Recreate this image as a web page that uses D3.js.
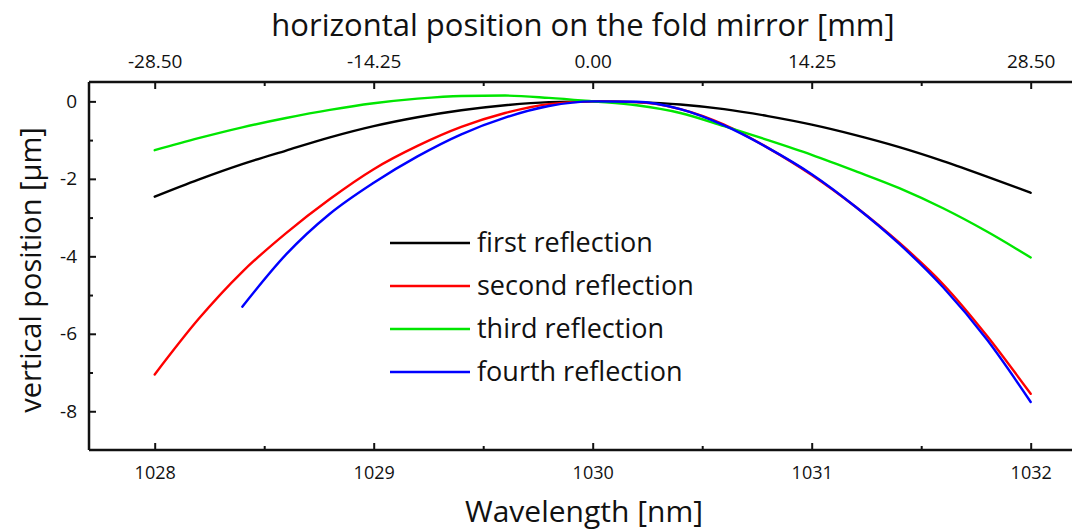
<!DOCTYPE html>
<html>
<head>
<meta charset="utf-8">
<script src="https://cdn.jsdelivr.net/npm/d3@7/dist/d3.min.js"></script>
<style>
  html, body { margin: 0; padding: 0; background: #fff; }
  svg { display: block; }
  .tick text { fill: #111; }
</style>
</head>
<body>
<svg id="chart" width="1072" height="532"></svg>
<script>
// Wavelength samples [nm]
const wavelength = [1028, 1028.2, 1028.4, 1028.6, 1028.8, 1029, 1029.2, 1029.4, 1029.6, 1029.8,
                    1030, 1030.2, 1030.4, 1030.6, 1030.8, 1031, 1031.2, 1031.4, 1031.6, 1031.8, 1032];

// Vertical position of the beam on the fold mirror [µm] for each reflection
const firstReflection  = [-2.46, -2.02, -1.62, -1.27, -0.93, -0.64, -0.41, -0.23, -0.10, -0.02,
                          0, -0.02, -0.08, -0.20, -0.38, -0.60, -0.87, -1.18, -1.54, -1.94, -2.36];
const secondReflection = [-7.05, -5.62, -4.40, -3.40, -2.52, -1.75, -1.15, -0.66, -0.30, -0.07,
                          0, -0.02, -0.20, -0.60, -1.20, -1.90, -2.72, -3.65, -4.72, -6.05, -7.55];
const thirdReflection  = [-1.26, -0.95, -0.67, -0.43, -0.22, -0.05, 0.07, 0.14, 0.15, 0.09,
                          0, -0.10, -0.30, -0.64, -1.00, -1.38, -1.80, -2.24, -2.76, -3.36, -4.03];
const fourthReflection = [null, null, -5.30, -3.95, -2.90, -2.10, -1.42, -0.85, -0.42, -0.12,
                          0, -0.01, -0.20, -0.62, -1.20, -1.88, -2.72, -3.68, -4.80, -6.15, -7.76];

const seriesNames  = ["first reflection", "second reflection", "third reflection", "fourth reflection"];
const seriesColors = ["#000000", "#ff0000", "#00e600", "#0000ff"];
const seriesValues = [firstReflection, secondReflection, thirdReflection, fourthReflection];

// Axis ticks
const bottomTicks = [1028, 1029, 1030, 1031, 1032];
const bottomMinor = [1028.5, 1029.5, 1030.5, 1031.5];
const topTicks = [-28.5, -14.25, 0, 14.25, 28.5];
const topMinor = [-21.375, -7.125, 7.125, 21.375];
const leftTicks = [0, -2, -4, -6, -8];
const leftMinor = [-1, -3, -5, -7];

// mm on the fold mirror per nm of wavelength, centred on 1030 nm
const mmPerNm = 14.25;
const centreNm = 1030;

const svg = d3.select("#chart");
const padLeft = 89, padTop = 82, padBottom = 450;
const x = d3.scaleLinear().domain([1027.7, 1032.2]).range([padLeft, padLeft + 4.5 * 219]);
const y = d3.scaleLinear().domain([-9, 0.5]).range([padBottom, padTop]);
const xTop = d3.scaleLinear()
  .domain([(1027.7 - centreNm) * mmPerNm, (1032.2 - centreNm) * mmPerNm])
  .range(x.range());

const font = "'Open Sans', sans-serif";
const hyphen = s => s.replace(/\u2212/g, "-");

const plot = svg.append("g");

// Curves
const line = d3.line()
  .defined(d => d[1] !== null)
  .x(d => x(d[0]))
  .y(d => y(d[1]))
  .curve(d3.curveMonotoneX);

seriesValues.forEach((vals, i) => {
  plot.append("path")
    .datum(wavelength.map((w, j) => [w, vals[j]]))
    .attr("fill", "none")
    .attr("stroke", seriesColors[i])
    .attr("stroke-width", 2.4)
    .attr("stroke-linejoin", "round")
    .attr("stroke-linecap", "round")
    .attr("d", line);
});

// Axes: ticks point into the plot
function styleAxis(g) {
  g.select(".domain").remove();
  g.selectAll(".tick line").attr("stroke", "#111").attr("stroke-width", 2);
}

const gBottom = svg.append("g").attr("transform", `translate(0,${padBottom})`)
  .call(d3.axisBottom(x).tickValues(bottomTicks).tickSizeInner(-7).tickSizeOuter(0)
        .tickPadding(16).tickFormat(d3.format("d")));
styleAxis(gBottom);
gBottom.selectAll(".tick text").attr("font-family", font).attr("font-size", 18);
svg.append("g").attr("transform", `translate(0,${padBottom})`)
  .call(d3.axisBottom(x).tickValues(bottomMinor).tickSizeInner(-4).tickSizeOuter(0).tickFormat(""))
  .call(styleAxis);

const gTop = svg.append("g").attr("transform", `translate(0,${padTop})`)
  .call(d3.axisTop(xTop).tickValues(topTicks).tickSizeInner(-7).tickSizeOuter(0)
        .tickPadding(14).tickFormat(d => hyphen(d3.format(".2f")(d))));
styleAxis(gTop);
gTop.selectAll(".tick text").attr("font-family", font).attr("font-size", 19);
svg.append("g").attr("transform", `translate(0,${padTop})`)
  .call(d3.axisTop(xTop).tickValues(topMinor).tickSizeInner(-4).tickSizeOuter(0).tickFormat(""))
  .call(styleAxis);

const gLeft = svg.append("g").attr("transform", `translate(${padLeft},0)`)
  .call(d3.axisLeft(y).tickValues(leftTicks).tickSizeInner(-7).tickSizeOuter(0)
        .tickPadding(12).tickFormat(d => hyphen(d3.format("d")(d))));
styleAxis(gLeft);
gLeft.selectAll(".tick text").attr("font-family", font).attr("font-size", 19);
svg.append("g").attr("transform", `translate(${padLeft},0)`)
  .call(d3.axisLeft(y).tickValues(leftMinor).tickSizeInner(-4).tickSizeOuter(0).tickFormat(""))
  .call(styleAxis);

// Frame lines
svg.append("line").attr("x1", padLeft).attr("x2", 1072).attr("y1", padTop).attr("y2", padTop)
  .attr("stroke", "#111").attr("stroke-width", 2.5);
svg.append("line").attr("x1", padLeft).attr("x2", 1072).attr("y1", padBottom).attr("y2", padBottom)
  .attr("stroke", "#111").attr("stroke-width", 2.5);
svg.append("line").attr("x1", padLeft).attr("x2", padLeft).attr("y1", padTop).attr("y2", padBottom)
  .attr("stroke", "#111").attr("stroke-width", 2.5);

// Axis titles
svg.append("text").attr("x", 583).attr("y", 36).attr("text-anchor", "middle")
  .attr("font-family", font).attr("font-size", 31).attr("fill", "#111")
  .text("horizontal position on the fold mirror [mm]");
svg.append("text").attr("x", 584).attr("y", 522).attr("text-anchor", "middle")
  .attr("font-family", font).attr("font-size", 30).attr("fill", "#111")
  .text("Wavelength [nm]");
svg.append("text")
  .attr("transform", "translate(41,270) rotate(-90)")
  .attr("text-anchor", "middle")
  .attr("font-family", font).attr("font-size", 29).attr("fill", "#111")
  .text("vertical position [µm]");

// Legend
const legend = svg.append("g").attr("transform", "translate(390,243)");
seriesNames.forEach((name, i) => {
  const row = legend.append("g").attr("transform", `translate(0,${i * 43})`);
  row.append("line").attr("x1", 0).attr("x2", 80).attr("y1", 0).attr("y2", 0)
    .attr("stroke", seriesColors[i]).attr("stroke-width", 2.4);
  row.append("text").attr("x", 87).attr("y", 9)
    .attr("font-family", font).attr("font-size", 27).attr("fill", "#111")
    .text(name);
});
</script>
</body>
</html>
